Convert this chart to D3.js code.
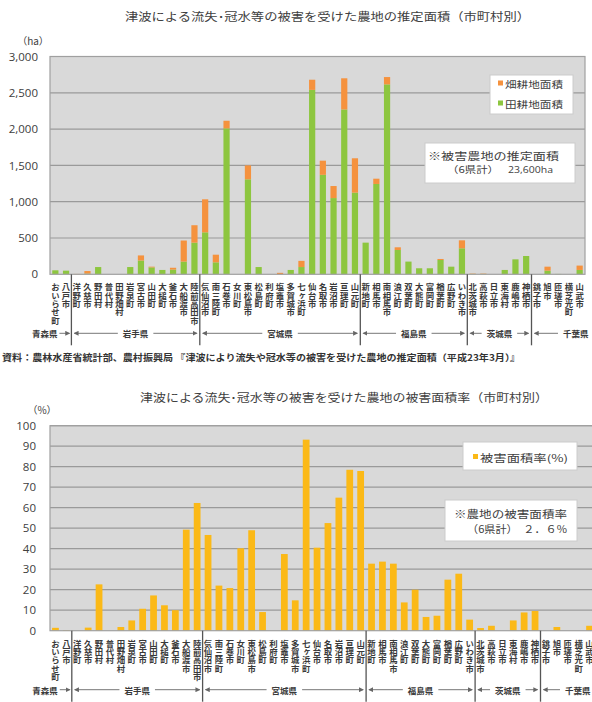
<!DOCTYPE html>
<html><head><meta charset="utf-8">
<script src="https://cdn.jsdelivr.net/npm/d3@7"></script>
<style>body{margin:0;background:#fff}svg{display:block}
.vl{writing-mode:vertical-rl;text-orientation:upright;}</style>
</head><body><svg id="c" width="592" height="702"></svg>
<script>
// ---------------- data ----------------
const municipalities = [
  "おいらせ町","八戸市",
  "洋野町","久慈市","野田村","普代村","田野畑村","岩泉町","宮古市","山田町","大槌町","釜石市","大船渡市","陸前高田市",
  "気仙沼市","南三陸町","石巻市","女川町","東松島市","松島町","利府町","塩竈市","多賀城市","七ヶ浜町","仙台市","名取市","岩沼市","亘理町","山元町",
  "新地町","相馬市","南相馬市","浪江町","双葉町","大熊町","富岡町","楢葉町","広野町","いわき市",
  "北茨城市","高萩市","日立市","東海村","鹿嶋市","神栖市",
  "銚子市","旭市","匝瑳市","横芝光町","山武市"
];
const prefNames = ["青森県","岩手県","宮城県","福島県","茨城県","千葉県"];
const prefCounts = [2,12,15,10,6,5];
// 田耕地面積 (ha)
const paddyArea = [
  55,50,
  0,10,100,0,0,100,190,95,60,65,175,436,
  578,165,2010,0,1308,100,0,0,60,100,2540,1370,1050,2270,1125,
  436,1244,2616,335,175,83,83,197,105,358,
  5,5,0,60,206,252,
  0,50,5,0,60
];
// 畑耕地面積 (ha)
const uplandArea = [
  0,0,
  5,35,0,0,0,0,70,10,0,25,290,240,
  455,105,105,0,192,0,0,20,0,85,140,195,166,430,473,
  0,73,101,37,0,0,0,14,0,110,
  5,5,0,0,0,0,
  0,55,0,0,60
];
// 被害面積率 (%)
const damageRate = [
  1.4,0.3,
  0,1.5,22.6,0,1.8,5,10.7,17.2,12.4,10,49.3,62.3,
  46.7,22,20.8,40.2,49,9.1,0,37.4,14.8,93.2,40.5,52.5,64.9,78.5,77.9,
  32.7,33.7,32.7,13.8,20,6.7,7.3,24.9,27.8,5.4,
  1.3,2.4,0,5,8.9,9.6,
  0,1.8,0,0,2.4
];
const areaTicks = [0,500,1000,1500,2000,2500,3000];
const rateTicks = [0,10,20,30,40,50,60,70,80,90,100];
const titleTop = "津波による流失･冠水等の被害を受けた農地の推定面積（市町村別）";
const titleBottom = "津波による流失･冠水等の被害を受けた農地の被害面積率（市町村別）";
const sourceText = "資料：農林水産省統計部、農村振興局 『津波により流失や冠水等の被害を受けた農地の推定面積（平成23年3月）』";

// ---------------- drawing ----------------
const svg = d3.select("#c");
const FONT = "'Noto Sans CJK JP','Noto Sans',sans-serif";
const TXT = "#404040";
const BG = "#d9d9d9", GRID = "#9a9a9a", BORDER = "#a0a0a0";
const GREEN = "#8dc63f", ORANGE = "#f5923e", YELLOW = "#fbb917";

const defs = svg.append("defs");
defs.append("marker").attr("id","arr").attr("viewBox","0 0 6 6").attr("refX",5).attr("refY",3)
  .attr("markerWidth",5).attr("markerHeight",5).attr("orient","auto")
  .append("path").attr("d","M0,0L6,3L0,6z").attr("fill","#666");

function stretchedText(g, str, x, y, len, size, opts={}) {
  const t = g.append("text").attr("x",x).attr("y",y).attr("font-family",FONT)
    .attr("font-size",size).attr("fill",opts.fill||TXT).attr("dominant-baseline","central")
    .attr("font-weight",opts.weight||400).text(str);
  if (len) t.attr("textLength",len).attr("lengthAdjust","spacingAndGlyphs");
  return t;
}

function drawChart(cfg) {
  const g = svg.append("g");
  const x = d3.scaleBand().domain(municipalities).range([cfg.x0,cfg.x1])
    .paddingInner(cfg.pad).paddingOuter(cfg.pad/2);
  const y = d3.scaleLinear().domain([0,cfg.ticks[cfg.ticks.length-1]]).range([cfg.yb,cfg.yt]);
  const step = x.step();
  g.append("rect").attr("x",cfg.x0).attr("y",cfg.yt).attr("width",cfg.x1-cfg.x0).attr("height",cfg.yb-cfg.yt)
    .attr("fill",BG);
  g.selectAll(".grid").data(cfg.ticks.slice(1)).join("line")
    .attr("x1",cfg.x0).attr("x2",cfg.x1).attr("y1",d=>y(d)).attr("y2",d=>y(d))
    .attr("stroke",GRID).attr("stroke-width",1.2);
  // y axis labels
  const yAxis = d3.axisLeft(y).tickValues(cfg.ticks).tickSize(0).tickPadding(0)
    .tickFormat(cfg.fmt);
  const ax = g.append("g").attr("transform",`translate(${cfg.labelRight},0)`).call(yAxis);
  ax.select(".domain").remove();
  ax.selectAll("text").attr("font-family","'Open Sans',sans-serif").attr("font-size",11.5).attr("fill",TXT);
  // bars
  cfg.drawBars(g, x, y);
  // border
  g.append("rect").attr("x",cfg.x0).attr("y",cfg.yt).attr("width",cfg.x1-cfg.x0).attr("height",cfg.yb-cfg.yt)
    .attr("fill","none").attr("stroke",BORDER).attr("stroke-width",1.2);
  // unit
  stretchedText(g, cfg.unit, cfg.unitX, cfg.unitY, null, 10).attr("text-anchor","middle");
  // title
  stretchedText(g, cfg.title, cfg.titleX, cfg.titleY, cfg.titleLen, 11.5);
  // x labels (vertical writing)
  g.selectAll(".vl").data(municipalities).join("text").attr("class","vl")
    .attr("x",d=>x(d)+x.bandwidth()/2).attr("y",cfg.yb + 8.5)
    .attr("font-family",FONT).attr("font-size",8.4).attr("font-weight",700).attr("fill","#3a3a3a")
    .text(d=>d);
  // dividers & prefecture labels
  let cum = [0]; prefCounts.forEach(c => cum.push(cum[cum.length-1]+c));
  const bx = k => cfg.x0 + k*step;
  cum.slice(1,-1).forEach(k => {
    g.append("line").attr("x1",bx(k)).attr("x2",bx(k)).attr("y1",cfg.yb).attr("y2",cfg.yb+71)
      .attr("stroke","#555").attr("stroke-width",1.3);
  });
  const py = cfg.yb + 59;
  prefNames.forEach((p,i) => {
    const a = bx(cum[i]), b = bx(cum[i+1]);
    const line = (x1,x2) => g.append("line").attr("x1",x1).attr("x2",x2).attr("y1",py).attr("y2",py)
      .attr("stroke","#777").attr("stroke-width",1).attr("marker-end","url(#arr)");
    const t = g.append("text").attr("y",py).attr("dominant-baseline","central").attr("font-family",FONT)
      .attr("font-size",8.5).attr("font-weight",700).attr("fill","#3a3a3a").text(p);
    if (i===0) {
      t.attr("x",b-14).attr("text-anchor","end");
      line(b-12,b-2);
    } else if (i===prefNames.length-1) {
      const xe = Math.min(a+57, 590.5);
      t.attr("x",xe).attr("text-anchor","end");
      const w = t.node().getComputedTextLength();
      line(xe-w-5,a+3);
    } else {
      const c = (a+b)/2;
      t.attr("x",c).attr("text-anchor","middle");
      const hw = t.node().getComputedTextLength()/2;
      line(c-hw-5,a+3);
      line(c+hw+5,b-3);
    }
  });
  return g;
}

// Top chart: stacked area
drawChart({
  x0:50, x1:585, yt:56.5, yb:274.3, pad:0.42, ticks:areaTicks, labelRight:38,
  fmt:d3.format(","), unit:"（ha）", unitX:33, unitY:40,
  title:titleTop, titleX:125, titleY:16, titleLen:405,
  drawBars:(g,x,y) => {
    const rows = municipalities.map((m,i)=>({name:m, paddy:paddyArea[i], upland:uplandArea[i]}));
    const series = d3.stack().keys(["paddy","upland"])(rows);
    const col = {paddy:GREEN, upland:ORANGE};
    g.selectAll(".s").data(series).join("g").attr("fill",d=>col[d.key])
      .selectAll("rect").data(d=>d).join("rect")
      .attr("x",d=>x(d.data.name)).attr("width",x.bandwidth())
      .attr("y",d=>y(d[1])).attr("height",d=>Math.max(0,y(d[0])-y(d[1])));
  }
});

// Bottom chart: damage rate
drawChart({
  x0:50, x1:595, yt:425.7, yb:630.7, pad:0.38, ticks:rateTicks, labelRight:36,
  fmt:d3.format("d"), unit:"（%）", unitX:42, unitY:409,
  title:titleBottom, titleX:140, titleY:397, titleLen:408,
  drawBars:(g,x,y) => {
    g.selectAll(".b").data(municipalities).join("rect").attr("fill",YELLOW)
      .attr("x",d=>x(d)).attr("width",x.bandwidth())
      .attr("y",(d,i)=>y(damageRate[i])).attr("height",(d,i)=>y(0)-y(damageRate[i]));
  }
});

// legends & notes (top)
const lg = svg.append("g");
lg.append("rect").attr("x",490).attr("y",75).attr("width",83).attr("height",39).attr("fill","#fff").attr("stroke","#ccc");
lg.append("rect").attr("x",498).attr("y",80.5).attr("width",5).attr("height",5).attr("fill",ORANGE);
stretchedText(lg,"畑耕地面積",505,83.5,58,9.5);
lg.append("rect").attr("x",498).attr("y",100.5).attr("width",5).attr("height",5).attr("fill",GREEN);
stretchedText(lg,"田耕地面積",505,103.5,58,9.5);
lg.append("rect").attr("x",425).attr("y",143).attr("width",150).attr("height",40).attr("fill","#fff").attr("stroke","#ccc");
stretchedText(lg,"※被害農地の推定面積",428,155,131,10);
stretchedText(lg,"（6県計）",447,169,52,9.5);
stretchedText(lg,"23,600ha",508,169,45,9.5).attr("font-family","'Open Sans',sans-serif");
// legends & notes (bottom)
lg.append("rect").attr("x",463).attr("y",442).attr("width",114).attr("height",28).attr("fill","#fff").attr("stroke","#ccc");
lg.append("rect").attr("x",473).attr("y",454).attr("width",5).attr("height",5).attr("fill",YELLOW);
stretchedText(lg,"被害面積率(%)",480,457,88,10);
lg.append("rect").attr("x",445).attr("y",500).attr("width",132).attr("height",41).attr("fill","#fff").attr("stroke","#ccc");
stretchedText(lg,"※農地の被害面積率",454,513,113,10.5);
stretchedText(lg,"（6県計）　２．６%",467,528,100,10.5);

// source
stretchedText(svg.append("g"), sourceText, 2, 357, 518, 9, {weight:700, fill:"#333"});
</script>
</body></html>
